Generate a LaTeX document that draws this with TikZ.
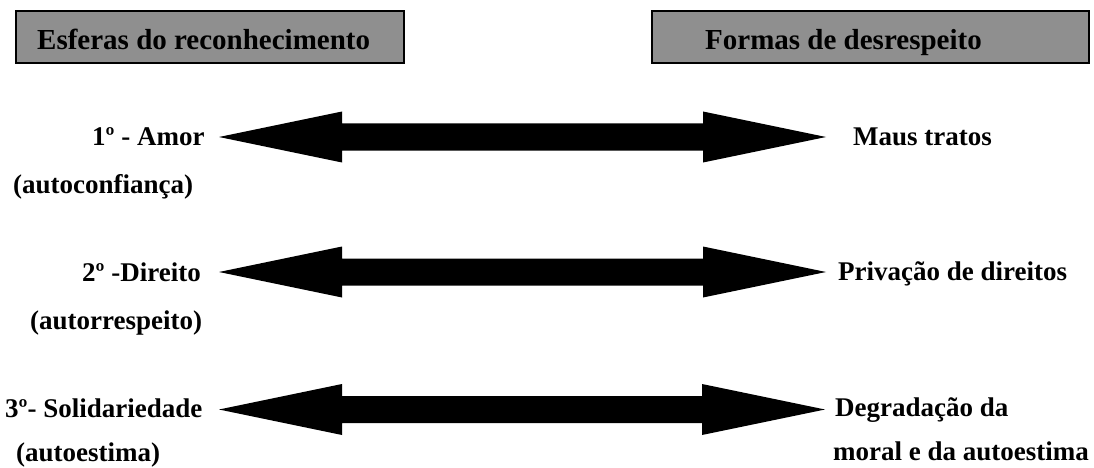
\documentclass[tikz,border=0pt]{standalone}
\usepackage{fontspec}
\setmainfont{Liberation Serif}
\usetikzlibrary{calc}
\definecolor{headgray}{HTML}{8F8F8F}
\begin{document}
\begin{tikzpicture}[x=1pt,y=-1pt,
  hbox/.style={draw=black, line width=2pt, fill=headgray, inner sep=0pt, minimum height=52pt},
  htext/.style={font=\fontsize{29}{32}\selectfont\bfseries, inner sep=0pt, anchor=base west},
  lbl/.style={font=\fontsize{27}{30}\selectfont\bfseries, inner sep=0pt, anchor=base west},
  bigarrow/.style={fill=black, draw=none}]
\useasboundingbox (0,0) rectangle (1094,468);
% header boxes
\node[hbox, minimum width=388pt] (hl) at (210,37) {};
\node[hbox, minimum width=437pt] (hr) at (870.5,37) {};
\node[htext] (hlt) at (37,50) {Esferas do reconhecimento};
\node[htext] (hrt) at (705,50) {Formas de desrespeito};
% left labels
\node[lbl] (a1) at (92,146) {1º - Amor};
\node[lbl] (a2) at (13,193) {(autoconfiança)};
\node[lbl] (b1) at (82,281) {2º -Direito};
\node[lbl] (b2) at (30,329) {(autorrespeito)};
\node[lbl] (c1) at (5,417) {3º- Solidariedade};
\node[lbl] (c2) at (16,461) {(autoestima)};
% right labels
\node[lbl] (d1) at (853,146) {Maus tratos};
\node[lbl] (e1) at (838,280) {Privação de direitos};
\node[lbl] (f1) at (835,416) {Degradação da};
\node[lbl] (f2) at (833,460) {moral e da autoestima};
% arrow tips
\coordinate (L1) at (219,137); \coordinate (R1) at (826,137);
\coordinate (L2) at (219,272); \coordinate (R2) at (826,272);
\coordinate (L3) at (219,409.5); \coordinate (R3) at (825,409.5);
\foreach \i in {1,2,3}{
  \fill[bigarrow] (L\i) -- ($(L\i)+(123,-25.5)$) -- ($(L\i)+(123,-13.5)$)
    -- ($(R\i)+(-123,-13.5)$) -- ($(R\i)+(-123,-25.5)$) -- (R\i)
    -- ($(R\i)+(-123,25.5)$) -- ($(R\i)+(-123,13.5)$)
    -- ($(L\i)+(123,13.5)$) -- ($(L\i)+(123,25.5)$) -- cycle;
}
\end{tikzpicture}
\end{document}
